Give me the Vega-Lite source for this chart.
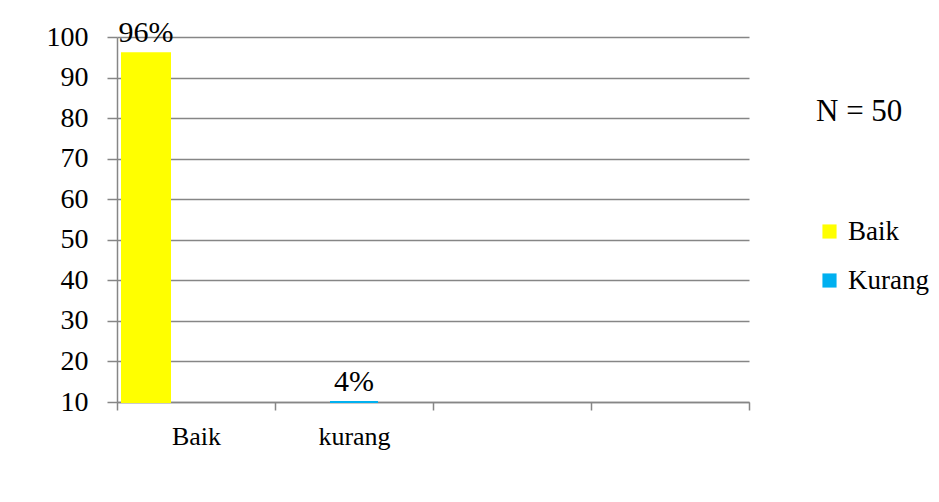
{
  "$schema": "https://vega.github.io/schema/vega-lite/v6.json",
  "width": 632,
  "height": 365,
  "autosize": {"type": "none"},
  "padding": {"left": 117, "top": 37, "right": 190, "bottom": 100},
  "background": "white",
  "config": {"font": "Liberation Serif", "view": {"stroke": null}},
  "data": {"values": [
    {"category": "Baik", "series": "Baik", "value": 96, "label": "96%"},
    {"category": "kurang", "series": "Kurang", "value": 4, "label": "4%"}
  ]},
  "encoding": {
    "x": {
      "field": "category", "type": "nominal", "sort": null,
      "scale": {"domain": ["Baik", "kurang", "c3", "c4"], "paddingInner": 0, "paddingOuter": 0},
      "axis": {
        "title": null, "labelAngle": 0, "labelFontSize": 26, "labelColor": "black",
        "labelExpr": "datum.value == 'c3' || datum.value == 'c4' ? '' : datum.value",
        "tickBand": "extent", "tickSize": 8, "tickColor": "#868686", "tickWidth": 1.5,
        "domainColor": "#868686", "domainWidth": 1.5, "labelPadding": 13, "grid": false
      }
    },
    "xOffset": {
      "field": "series", "type": "nominal",
      "scale": {"domain": ["Baik", "Kurang", "Lain"], "paddingInner": 0.04, "paddingOuter": 0.1}
    },
    "y": {
      "field": "value", "type": "quantitative",
      "scale": {"domain": [10, 100], "clamp": true, "nice": false, "zero": false},
      "axis": {
        "title": null, "values": [10, 20, 30, 40, 50, 60, 70, 80, 90, 100],
        "labelFontSize": 28, "labelColor": "black", "labelPadding": 19,
        "tickSize": 10, "tickColor": "#868686", "tickWidth": 1.5,
        "domainColor": "#868686", "domainWidth": 1.5,
        "gridColor": "#868686", "gridWidth": 1.5
      }
    }
  },
  "layer": [
    {
      "mark": {"type": "bar", "strokeWidth": 2},
      "encoding": {
        "y2": {"datum": 10},
        "color": {
          "field": "series", "type": "nominal",
          "scale": {"domain": ["Baik", "Kurang"], "range": ["#FFFF00", "#00B0F0"]},
          "legend": {
            "title": "N = 50", "titleFontSize": 31, "titleFontWeight": "normal", "titleColor": "black",
            "titlePadding": 90, "orient": "none", "legendX": 699, "legendY": 60,
            "symbolType": "square", "symbolSize": 200, "symbolStrokeWidth": 0,
            "labelFontSize": 27, "labelColor": "black", "rowPadding": 21, "labelOffset": 5
          }
        },
        "stroke": {
          "field": "series", "type": "nominal",
          "scale": {"domain": ["Baik", "Kurang"], "range": ["#FFFF00", "#00B0F0"]},
          "legend": null
        }
      }
    },
    {
      "mark": {"type": "text", "baseline": "alphabetic", "dy": -11, "fontSize": 30, "color": "black"},
      "encoding": {"text": {"field": "label"}}
    }
  ]
}
